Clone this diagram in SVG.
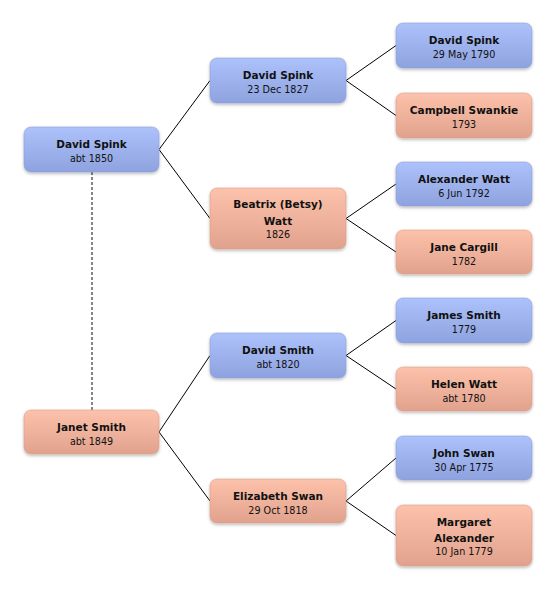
<svg xmlns="http://www.w3.org/2000/svg" width="556" height="590" viewBox="0 0 556 590">
<defs>
<linearGradient id="gb" x1="0" y1="0" x2="0" y2="1"><stop offset="0" stop-color="#adc2fb"/><stop offset="1" stop-color="#8ea2df"/></linearGradient>
<linearGradient id="gs" x1="0" y1="0" x2="0" y2="1"><stop offset="0" stop-color="#fdc2ab"/><stop offset="1" stop-color="#e1a28d"/></linearGradient>
<filter id="sh" x="-10%" y="-10%" width="120%" height="130%"><feDropShadow dx="0" dy="1.5" stdDeviation="1.5" flood-color="#000" flood-opacity="0.28"/></filter>
</defs>
<style>
.b{fill:url(#gb);stroke:#8d9fd6;stroke-width:0.6;filter:url(#sh)}
.s{fill:url(#gs);stroke:#d9a08c;stroke-width:0.6;filter:url(#sh)}
text{font-family:"DejaVu Sans","Liberation Sans",sans-serif;text-anchor:middle;fill:#111}
.n{font-size:10.5px;font-weight:bold}
.d{font-size:9.6px}
.c line{stroke:#000;stroke-width:1}
</style>
<rect width="556" height="590" fill="#fff"/>
<g class="c" id="connectors">
<line x1="92" y1="172" x2="92" y2="410" stroke="#666" stroke-width="1.6" stroke-dasharray="3,2" style="stroke:#666;stroke-width:1.6"/>
<line x1="159" y1="149.5" x2="210" y2="80.5"/>
<line x1="159" y1="149.5" x2="210" y2="218.5"/>
<line x1="159" y1="432" x2="210" y2="355.5"/>
<line x1="159" y1="432" x2="210" y2="501"/>
<line x1="346" y1="80.5" x2="396" y2="45.5"/>
<line x1="346" y1="80.5" x2="396" y2="115.5"/>
<line x1="346" y1="218.5" x2="396" y2="184"/>
<line x1="346" y1="218.5" x2="396" y2="252"/>
<line x1="346" y1="355.5" x2="396" y2="320.5"/>
<line x1="346" y1="355.5" x2="396" y2="389"/>
<line x1="346" y1="501" x2="396" y2="458"/>
<line x1="346" y1="501" x2="396" y2="535.5"/>
</g>
<g id="n-l1"><rect class="b" x="24" y="127" width="135" height="45" rx="7"/><text class="n" x="91.5" y="148">David Spink</text><text class="d" x="91.5" y="162">abt 1850</text></g>
<g id="n-l2"><rect class="s" x="24" y="410" width="135" height="44" rx="7"/><text class="n" x="91.5" y="431">Janet Smith</text><text class="d" x="91.5" y="445">abt 1849</text></g>
<g id="n-m1"><rect class="b" x="210" y="58" width="136" height="45" rx="7"/><text class="n" x="278" y="79">David Spink</text><text class="d" x="278" y="93">23 Dec 1827</text></g>
<g id="n-m2"><rect class="s" x="210" y="188" width="136" height="61" rx="7"/><text class="n" x="278" y="208">Beatrix (Betsy)</text><text class="n" x="278" y="225">Watt</text><text class="d" x="278" y="238">1826</text></g>
<g id="n-m3"><rect class="b" x="210" y="333" width="136" height="45" rx="7"/><text class="n" x="278" y="354">David Smith</text><text class="d" x="278" y="368">abt 1820</text></g>
<g id="n-m4"><rect class="s" x="210" y="479" width="136" height="44" rx="7"/><text class="n" x="278" y="500">Elizabeth Swan</text><text class="d" x="278" y="514">29 Oct 1818</text></g>
<g id="n-r1"><rect class="b" x="396" y="23" width="136" height="45" rx="7"/><text class="n" x="464" y="44">David Spink</text><text class="d" x="464" y="58">29 May 1790</text></g>
<g id="n-r2"><rect class="s" x="396" y="93" width="136" height="45" rx="7"/><text class="n" x="464" y="114">Campbell Swankie</text><text class="d" x="464" y="128">1793</text></g>
<g id="n-r3"><rect class="b" x="396" y="162" width="136" height="44" rx="7"/><text class="n" x="464" y="183">Alexander Watt</text><text class="d" x="464" y="197">6 Jun 1792</text></g>
<g id="n-r4"><rect class="s" x="396" y="230" width="136" height="44" rx="7"/><text class="n" x="464" y="251">Jane Cargill</text><text class="d" x="464" y="265">1782</text></g>
<g id="n-r5"><rect class="b" x="396" y="298" width="136" height="45" rx="7"/><text class="n" x="464" y="319">James Smith</text><text class="d" x="464" y="333">1779</text></g>
<g id="n-r6"><rect class="s" x="396" y="367" width="136" height="44" rx="7"/><text class="n" x="464" y="388">Helen Watt</text><text class="d" x="464" y="402">abt 1780</text></g>
<g id="n-r7"><rect class="b" x="396" y="436" width="136" height="44" rx="7"/><text class="n" x="464" y="457">John Swan</text><text class="d" x="464" y="471">30 Apr 1775</text></g>
<g id="n-r8"><rect class="s" x="396" y="505" width="136" height="61" rx="7"/><text class="n" x="464" y="526">Margaret</text><text class="n" x="464" y="542">Alexander</text><text class="d" x="464" y="555">10 Jan 1779</text></g>
</svg>
